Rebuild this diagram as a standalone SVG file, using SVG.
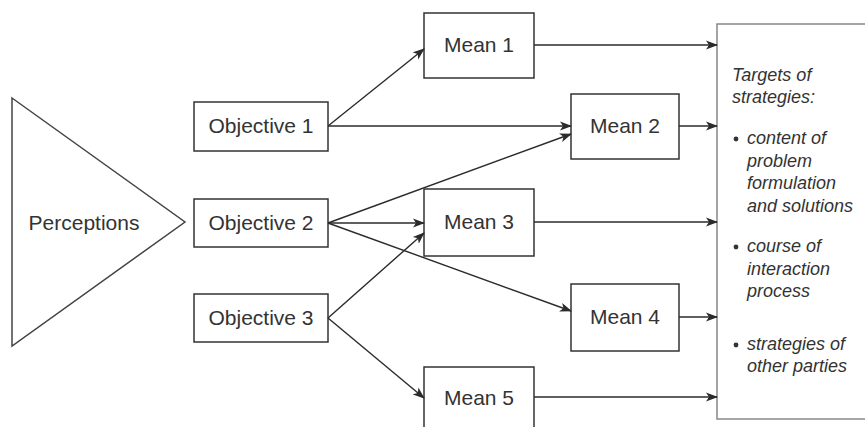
<svg xmlns="http://www.w3.org/2000/svg" width="865" height="427" viewBox="0 0 865 427">
<defs>
<marker id="ah" viewBox="0 0 12 10" refX="11" refY="5" markerWidth="12" markerHeight="10" markerUnits="userSpaceOnUse" orient="auto">
<path d="M0,0.5 L12,5 L0,9.5 L3,5 Z" fill="#2b2b2b"/>
</marker>
<style>
.box{fill:#fff;stroke:#333;stroke-width:1.5}
.lbl{font-family:"Liberation Sans",Arial,sans-serif;font-size:21px;fill:#333;text-anchor:middle}
.c{stroke:#2b2b2b;stroke-width:1.4;fill:none;marker-end:url(#ah)}
.it{font-family:"Liberation Sans",Arial,sans-serif;font-size:18px;font-style:italic;fill:#333}
</style>
</defs>
<rect width="865" height="427" fill="#fff"/>
<g id="perceptions">
<polygon points="12,98 185,222 12,346" fill="#fff" stroke="#444" stroke-width="1.5"/>
<text class="lbl" x="84" y="230">Perceptions</text>
</g>
<g id="objective1"><rect class="box" x="194" y="102" width="134" height="49"/><text class="lbl" x="261" y="133">Objective 1</text></g>
<g id="objective2"><rect class="box" x="194" y="199" width="134" height="48"/><text class="lbl" x="261" y="230">Objective 2</text></g>
<g id="objective3"><rect class="box" x="194" y="294" width="134" height="48"/><text class="lbl" x="261" y="325">Objective 3</text></g>
<g id="mean1"><rect class="box" x="424" y="13" width="110" height="65"/><text class="lbl" x="479" y="52">Mean 1</text></g>
<g id="mean2"><rect class="box" x="571" y="94" width="108" height="65"/><text class="lbl" x="625" y="133">Mean 2</text></g>
<g id="mean3"><rect class="box" x="424" y="189" width="110" height="67"/><text class="lbl" x="479" y="229">Mean 3</text></g>
<g id="mean4"><rect class="box" x="571" y="284" width="108" height="67"/><text class="lbl" x="625" y="324">Mean 4</text></g>
<g id="mean5"><rect class="box" x="424" y="367" width="110" height="70"/><text class="lbl" x="479" y="405">Mean 5</text></g>
<g id="targets">
<rect x="717" y="24" width="160" height="395" fill="#fff" stroke="#888" stroke-width="1.5"/>
<text class="it"><tspan x="732" y="81">Targets of</tspan><tspan x="732" y="103">strategies:</tspan></text>
<circle cx="736" cy="139" r="2.4" fill="#333"/>
<text class="it"><tspan x="747" y="144">content of</tspan><tspan x="747" y="167">problem</tspan><tspan x="747" y="189">formulation</tspan><tspan x="747" y="212">and solutions</tspan></text>
<circle cx="736" cy="247" r="2.4" fill="#333"/>
<text class="it"><tspan x="747" y="252">course of</tspan><tspan x="747" y="275">interaction</tspan><tspan x="747" y="297">process</tspan></text>
<circle cx="736" cy="345" r="2.4" fill="#333"/>
<text class="it"><tspan x="747" y="350">strategies of</tspan><tspan x="747" y="372">other parties</tspan></text>
</g>
<g id="connectors">
<line class="c" x1="328" y1="126" x2="424" y2="49"/>
<line class="c" x1="328" y1="126" x2="571" y2="126"/>
<line class="c" x1="328" y1="223" x2="571" y2="134"/>
<line class="c" x1="328" y1="223" x2="424" y2="223"/>
<line class="c" x1="328" y1="223" x2="571" y2="311"/>
<line class="c" x1="328" y1="318" x2="424" y2="233"/>
<line class="c" x1="328" y1="318" x2="424" y2="398"/>
<line class="c" x1="534" y1="45" x2="717" y2="45"/>
<line class="c" x1="679" y1="126" x2="717" y2="126"/>
<line class="c" x1="534" y1="222" x2="717" y2="222"/>
<line class="c" x1="679" y1="317" x2="717" y2="317"/>
<line class="c" x1="534" y1="397" x2="717" y2="397"/>
</g>
</svg>
